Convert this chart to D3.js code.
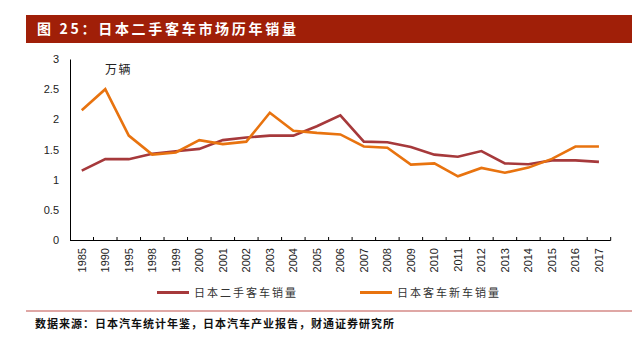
<!DOCTYPE html>
<html>
<head>
<meta charset="utf-8">
<script src="https://cdn.jsdelivr.net/npm/d3@7"></script>
<style>
  body { margin: 0; background: #fff; }
  svg { display: block; }
  .tick-label { font-family: "Liberation Sans", Arial, sans-serif; font-size: 11px; fill: #222; }
  .cjk { font-family: "Noto Sans CJK SC", sans-serif; }
</style>
</head>
<body>
<div id="svg-container"></div>
<script>
// data
const years = ["1985", "1990", "1995", "1998", "1999", "2000", "2001", "2002", "2003", "2004", "2005", "2006",
  "2007", "2008", "2009", "2010", "2011", "2012", "2013", "2014", "2015", "2016", "2017"];
const usedSales = [1.15, 1.34, 1.34, 1.43, 1.47, 1.51, 1.655, 1.70, 1.73, 1.73, 1.885, 2.065,
  1.63, 1.62, 1.54, 1.415, 1.38, 1.475, 1.27, 1.255, 1.32, 1.32, 1.295];
const newSales = [2.15, 2.50, 1.73, 1.415, 1.45, 1.655, 1.59, 1.63, 2.11, 1.81, 1.775, 1.75,
  1.55, 1.53, 1.25, 1.27, 1.055, 1.195, 1.115, 1.20, 1.345, 1.55, 1.55];
const yTicks = [0, 0.5, 1, 1.5, 2, 2.5, 3];
const seriesNames = ["日本二手客车销量", "日本客车新车销量"];
const seriesColors = ["#a6393b", "#e8730f"];

const width = 641, height = 339;
const margin = { top: 59, right: 30, bottom: 99, left: 70 };

const svg = d3.select("#svg-container").append("svg")
  .attr("width", width).attr("height", height);

////////////////////////////  header  ////////////////////////////
svg.append("rect")
  .attr("x", 26).attr("y", 15)
  .attr("width", 606).attr("height", 28)
  .attr("fill", "#a01f08");

svg.append("text")
  .attr("class", "cjk")
  .attr("x", 37).attr("y", 34)
  .attr("fill", "#fff")
  .style("font-size", "14px")
  .style("font-weight", "bold")
  .style("letter-spacing", "2.7px")
  .text("图 25：日本二手客车市场历年销量");

////////////////////////////  scales  ////////////////////////////
const xScale = d3.scaleBand()
  .domain(years)
  .range([margin.left, width - margin.right - 0.3]);

const yScale = d3.scaleLinear()
  .domain([0, 3])
  .range([height - margin.bottom, margin.top]);

////////////////////////////  axes  ////////////////////////////
// y axis: line + labels, no ticks
const yAxis = svg.append("g")
  .attr("transform", `translate(${margin.left},0)`)
  .call(d3.axisLeft(yScale).tickValues(yTicks).tickSize(0).tickPadding(11).tickFormat(d3.format("")));
yAxis.select(".domain").attr("stroke", "#000").attr("stroke-width", 1);
yAxis.selectAll("text").attr("class", "tick-label").attr("fill", null);

// x axis: ticks at band edges pointing up
const y0 = yScale(0);
svg.append("line")
  .attr("x1", xScale.range()[0]).attr("x2", xScale.range()[1])
  .attr("y1", y0 + 0.5).attr("y2", y0 + 0.5)
  .attr("stroke", "#000");

const edges = years.map((d) => xScale(d)).concat([xScale.range()[1]]);
svg.selectAll(".x-tick")
  .data(edges.slice(1))
  .enter()
  .append("line")
  .attr("class", "x-tick")
  .attr("x1", (d) => d).attr("x2", (d) => d)
  .attr("y1", y0 - 3).attr("y2", y0 + 0.5)
  .attr("stroke", "#000");

svg.selectAll(".x-label")
  .data(years)
  .enter()
  .append("text")
  .attr("class", "tick-label")
  .attr("transform", (d) => `translate(${xScale(d) + xScale.bandwidth() / 2 + 4},${y0 + 8}) rotate(-90)`)
  .attr("text-anchor", "end")
  .text((d) => d);

// unit
svg.append("text")
  .attr("class", "cjk")
  .attr("x", 105).attr("y", 74)
  .attr("fill", "#222")
  .style("font-size", "12px")
  .style("letter-spacing", "1.5px")
  .text("万辆");

////////////////////////////  lines  ////////////////////////////
const line = d3.line()
  .x((d, i) => xScale(years[i]) + xScale.bandwidth() / 2)
  .y((d) => yScale(d));

[usedSales, newSales].forEach((values, k) => {
  svg.append("path")
    .datum(values)
    .attr("fill", "none")
    .attr("stroke", seriesColors[k])
    .attr("stroke-width", 2.6)
    .attr("stroke-linejoin", "miter")
    .attr("d", line);
});

////////////////////////////  legend  ////////////////////////////
const legendX = [157, 360];
seriesNames.forEach((name, k) => {
  svg.append("line")
    .attr("x1", legendX[k]).attr("x2", legendX[k] + 32)
    .attr("y1", 292.5).attr("y2", 292.5)
    .attr("stroke", seriesColors[k])
    .attr("stroke-width", 3);
  svg.append("text")
    .attr("class", "cjk")
    .attr("x", legendX[k] + 37).attr("y", 297)
    .attr("fill", "#333")
    .style("font-size", "11px")
    .style("letter-spacing", "2px")
    .text(name);
});

////////////////////////////  footer  ////////////////////////////
svg.append("line")
  .attr("x1", 26).attr("x2", 632)
  .attr("y1", 311).attr("y2", 311)
  .attr("stroke", "#c0504d")
  .attr("stroke-width", 1.2);

svg.append("text")
  .attr("class", "cjk")
  .attr("x", 35).attr("y", 328)
  .attr("fill", "#111")
  .style("font-size", "11px")
  .style("font-weight", "bold")
  .style("letter-spacing", "1px")
  .text("数据来源：日本汽车统计年鉴，日本汽车产业报告，财通证券研究所");
</script>
</body>
</html>
